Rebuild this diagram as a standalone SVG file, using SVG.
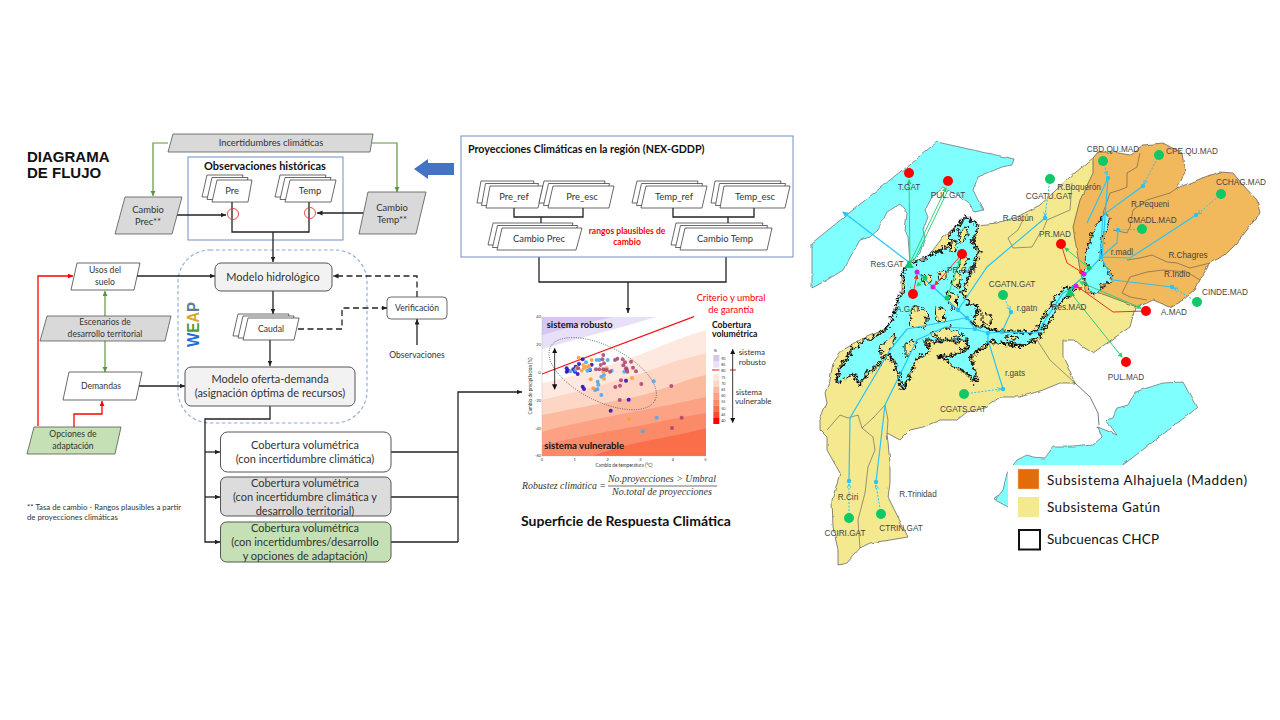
<svg xmlns="http://www.w3.org/2000/svg" width="1280" height="720" viewBox="0 0 1280 720">
<style>
text{font-family:Lato,"Liberation Sans",sans-serif;fill:#333;text-anchor:middle}
.s9{font-size:8.6px}.s10{font-size:9.4px}.s11{font-size:11px}
.b{font-weight:700;fill:#111}
.w{fill:#fff;stroke:#444;stroke-width:.8}
.g{fill:#d9d9d9;stroke:#555;stroke-width:.8}
.k{fill:none;stroke:#222;stroke-width:1.3}
.kd{fill:none;stroke:#222;stroke-width:1.3;stroke-dasharray:6 3.5}
.gr{fill:none;stroke:#5f9440;stroke-width:1.2}
.rd{fill:none;stroke:#f00;stroke-width:1.3}
.ml{font-family:"Liberation Sans",sans-serif;font-size:8.2px;fill:#444}
.c{fill:none;stroke:#29c4f4;stroke-width:1.2}
.cd{fill:none;stroke:#29c4f4;stroke-width:1;stroke-dasharray:2 1.5}
.mg{fill:none;stroke:#2fcf78;stroke-width:1}
.mr{fill:none;stroke:#f03020;stroke-width:1}
.sub{fill:none;stroke:#555;stroke-width:.6}
.nr{fill:#f00}.ng{fill:#10c865}.nm{fill:#d020e8}.nc{fill:#29c4f4}
.isl{fill:#f5e98f;stroke:#111;stroke-width:1}
.leg{font-family:Lato,"Liberation Sans",sans-serif;font-size:13.5px;fill:#111;text-anchor:start}
</style>
<defs>
<marker id="ak" markerUnits="userSpaceOnUse" markerWidth="7" markerHeight="7" refX="5.500" refY="2.500" orient="auto"><path d="M0,0L5.500,2.500L0,5Z" fill="#222"/></marker>
<marker id="ag" markerUnits="userSpaceOnUse" markerWidth="7" markerHeight="7" refX="5" refY="2.500" orient="auto"><path d="M0,0L5,2.500L0,5Z" fill="#5f9440"/></marker>
<marker id="ar" markerUnits="userSpaceOnUse" markerWidth="7" markerHeight="7" refX="5" refY="2.500" orient="auto"><path d="M0,0L5,2.500L0,5Z" fill="#f00"/></marker>
<marker id="ac" markerUnits="userSpaceOnUse" markerWidth="7" markerHeight="7" refX="5" refY="3" orient="auto"><path d="M0,0L6,3L0,6Z" fill="#29c4f4"/></marker>
<marker id="ac2" markerUnits="userSpaceOnUse" markerWidth="6" markerHeight="6" refX="4" refY="2" orient="auto"><path d="M0,0L4,2L0,4" fill="none" stroke="#29c4f4" stroke-width=".8"/></marker>
<marker id="amg" markerUnits="userSpaceOnUse" markerWidth="6" markerHeight="6" refX="4" refY="2.500" orient="auto-start-reverse"><path d="M0,0L5,2.500L0,5Z" fill="#2fcf78"/></marker>
<marker id="amr" markerUnits="userSpaceOnUse" markerWidth="6" markerHeight="6" refX="4" refY="2.500" orient="auto"><path d="M0,0L5,2.500L0,5Z" fill="#f03020"/></marker>
<marker id="ad" markerUnits="userSpaceOnUse" markerWidth="20" markerHeight="20" refX="15" refY="8" orient="auto-start-reverse"><path d="M0,0L16,8L0,16Z" fill="#111"/></marker>
<filter id="rough" x="-5%" y="-5%" width="110%" height="110%"><feTurbulence type="fractalNoise" baseFrequency="0.22" numOctaves="2" seed="4"/><feDisplacementMap in="SourceGraphic" scale="9" xChannelSelector="R" yChannelSelector="G"/></filter>
<filter id="rough2" x="-5%" y="-5%" width="110%" height="110%"><feTurbulence type="fractalNoise" baseFrequency="0.1" numOctaves="2" seed="9"/><feDisplacementMap in="SourceGraphic" scale="3" xChannelSelector="R" yChannelSelector="G"/></filter>
<clipPath id="plotclip"><rect x="96" y="50" width="492" height="418"/></clipPath>
<path id="lakeG" d="M977,225L972,243L978,253L968,277L962,293L968,305L978,307L972,325L987,329L1000,332L1017,332L1035,333L1043,320L1057,297L1067,288L1072,288L1073,292L1060,300L1048,322L1038,337L1023,345L1000,342L990,340L982,347L970,355L977,383L967,372L953,365L942,357L953,355L967,350L968,340L923,340L930,350L917,357L910,373L902,390L900,373L890,353L870,370L860,383L853,373L837,383L840,370L853,350L865,340L870,340L887,330L897,310L898,300L907,287L903,273L908,265L923,260L943,250L952,245L950,237L957,227L967,218Z"/>
<path id="lakeM" d="M1090,293L1098,293L1100,287L1113,280L1100,258L1103,235L1110,217L1105,213L1092,233L1090,243L1085,260L1087,267L1082,273L1087,287Z"/>
</defs>
<rect width="1280" height="720" fill="#fff"/>

<g id="title"><text x="27" y="162" style="font-family:'Liberation Sans',sans-serif;font-size:15px;font-weight:700;text-anchor:start;fill:#111">DIAGRAMA</text><text x="27" y="178" style="font-family:'Liberation Sans',sans-serif;font-size:15px;font-weight:700;text-anchor:start;fill:#111">DE FLUJO</text></g>
<g id="obs-box"><rect x="188" y="157" width="155" height="83" fill="none" stroke="#6f8fc8" stroke-width="1"/><text class="b" x="265" y="170" style="font-size:11px">Observaciones históricas</text></g>
<g id="weap"><rect x="178" y="250" width="189" height="173" rx="32" fill="none" stroke="#8ea9d8" stroke-width="1.1" stroke-dasharray="3.5 2.5"/>
<text transform="translate(199,347) rotate(-90)" textLength="45" lengthAdjust="spacingAndGlyphs" style="font-family:'Liberation Sans',sans-serif;font-size:16px;font-weight:700;text-anchor:start"><tspan fill="#1c6fd8">W</tspan><tspan fill="#4f9a3a">E</tspan><tspan fill="#d2a92e">A</tspan><tspan fill="#5f7f96">P</tspan></text></g>

<g id="connectors">
<path class="gr" d="M168,143H153V196" marker-end="url(#ag)"/>
<path class="gr" d="M372,143H397V192" marker-end="url(#ag)"/>
<path class="k" d="M177,215H226" marker-end="url(#ak)"/>
<path class="k" d="M363,213H317" marker-end="url(#ak)"/>
<path class="k" d="M232,202V232H309V202"/>
<path class="k" d="M273,232V262" marker-end="url(#ak)"/>
<path class="k" d="M135,276H215" marker-end="url(#ak)"/>
<path class="rd" d="M38,426V276H73" marker-end="url(#ar)"/>
<path class="gr" d="M105,316V291" marker-end="url(#ag)"/>
<path class="gr" d="M105,341V372" marker-end="url(#ag)"/>
<path class="rd" d="M74,427V414H102V401" marker-end="url(#ar)"/>
<path class="k" d="M138,386H185" marker-end="url(#ak)"/>
<path class="k" d="M273,291V314" marker-end="url(#ak)"/>
<path class="k" d="M270,340V366" marker-end="url(#ak)"/>
<path class="kd" d="M417,297V276H333" marker-end="url(#ak)"/>
<path class="kd" d="M298,329H342V308H387" marker-end="url(#ak)"/>
<path class="k" d="M417,345V319" marker-end="url(#ak)"/>
<path class="k" d="M270,406V419H205V542H220" marker-end="url(#ak)"/>
<path class="k" d="M205,452H220" marker-end="url(#ak)"/>
<path class="k" d="M205,497H220" marker-end="url(#ak)"/>
<path class="k" d="M391,452H458M391,497H458M391,542H458"/>
<path class="k" d="M458,542V392H522" marker-end="url(#ak)"/>
<path class="k" d="M514,208V217H583V208"/>
<path class="k" d="M541,217V228" marker-end="url(#ak)"/>
<path class="k" d="M673,208V217H754V208"/>
<path class="k" d="M728,217V228" marker-end="url(#ak)"/>
<path class="k" d="M539,257V282H726V257"/>
<path class="k" d="M628,282V313" marker-end="url(#ak)"/>
<circle cx="233" cy="214" r="5.5" fill="none" stroke="#f03030" stroke-width=".9"/>
<circle cx="310" cy="213" r="5.5" fill="none" stroke="#f03030" stroke-width=".9"/>
<path d="M414,169L428,159V163H454V175H428V179Z" fill="#4472c4"/>
</g>

<g id="incertidumbres"><polygon class="g" points="168,152 173,134 373,134 370,152"/><text class="s10" x="271" y="146">Incertidumbres climáticas</text></g>
<g id="cambio-prec"><polygon class="g" points="115,234 125,197 182,197 172,234"/><text class="s10" x="148" y="213">Cambio</text><text class="s10" x="148" y="225">Prec**</text></g>
<g id="cambio-temp"><polygon class="g" points="359,234 368,192 426,192 416,234"/><text class="s10" x="392" y="211">Cambio</text><text class="s10" x="392" y="223">Temp**</text></g>
<g id="pre"><polygon class="w" points="202,197 207,175 243,175 239,197"/><polygon class="w" points="207,199.500 212,177.500 248,177.500 243,199.500"/><polygon class="w" points="212,202 217,180 252,180 248,202"/><text class="s10" x="232" y="194">Pre</text></g>
<g id="temp"><polygon class="w" points="275,197 280,175 326,175 321,197"/><polygon class="w" points="280,199.500 285,177.500 331,177.500 326,199.500"/><polygon class="w" points="285,202 290,180 336,180 331,202"/><text class="s10" x="310" y="194">Temp</text></g>
<g id="usos"><polygon class="w" points="71,290 77,263 140,263 134,290"/><text class="s9" x="105" y="273">Usos del</text><text class="s9" x="105" y="285">suelo</text></g>
<g id="escenarios"><polygon class="g" points="40,341 47,316 171,316 165,341"/><text class="s9" x="105" y="325">Escenarios de</text><text class="s9" x="105" y="337">desarrollo territorial</text></g>
<g id="demandas"><polygon class="w" points="63,400 69,372 142,372 136,400"/><text class="s9" x="101" y="389">Demandas</text></g>
<g id="opciones"><polygon points="27,454 34,427 121,427 115,454" fill="#c5e0b4" stroke="#555" stroke-width=".8"/><text class="s9" x="73" y="437">Opciones de</text><text class="s9" x="73" y="449">adaptación</text></g>
<g id="hidrologico"><rect x="215" y="263" width="117" height="28" rx="6" fill="#f2f2f2" stroke="#555"/><text class="s11" x="273" y="281">Modelo hidrológico</text></g>
<g id="caudal"><polygon class="w" points="233,336 238,314 289,314 284,336"/><polygon class="w" points="238,338 243,316 294,316 289,338"/><polygon class="w" points="243,340 248,318 299,318 294,340"/><text class="s9" x="271" y="332">Caudal</text></g>
<g id="verificacion"><rect x="387" y="297" width="60" height="22" rx="4" fill="#fff" stroke="#444" stroke-width=".8"/><text class="s9" x="417" y="311">Verificación</text></g>
<g id="observaciones"><text class="s9" x="417" y="358">Observaciones</text></g>
<g id="oferta"><rect x="185" y="367" width="170" height="39" rx="6" fill="#f2f2f2" stroke="#555"/><text class="s11" x="270" y="383">Modelo oferta-demanda</text><text class="s11" x="270" y="397">(asignación óptima de recursos)</text></g>
<g id="cob1"><rect x="220.500" y="432" width="170.500" height="40" rx="7" fill="#fff" stroke="#555"/><text class="s11" x="305" y="449">Cobertura volumétrica</text><text class="s11" x="305" y="463">(con incertidumbre climática)</text></g>
<g id="cob2"><rect x="220.500" y="477" width="170.500" height="39" rx="6" fill="#dcdcdc" stroke="#555"/><text class="s11" x="305" y="487">Cobertura volumétrica</text><text class="s11" x="305" y="501">(con incertidumbre climática y</text><text class="s11" x="305" y="515">desarrollo territorial)</text></g>
<g id="cob3"><rect x="220.500" y="522" width="170.500" height="40" rx="6" fill="#c5e0b4" stroke="#555"/><text class="s11" x="305" y="532">Cobertura volumétrica</text><text class="s11" x="305" y="546">(con incertidumbres/desarrollo</text><text class="s11" x="305" y="560">y opciones de adaptación)</text></g>
<g id="nota"><text x="27" y="510" style="font-size:7.8px;text-anchor:start">** Tasa de cambio - Rangos plausibles a partir</text><text x="27" y="520" style="font-size:7.8px;text-anchor:start">de proyecciones climáticas</text></g>

<g id="proy-box"><rect x="461" y="136" width="332" height="121" fill="none" stroke="#6f8fc8"/><text class="b" x="468" y="153" style="font-size:10.7px;text-anchor:start">Proyecciones Climáticas en la región (NEX-GDDP)</text></g>
<g id="pre-ref"><polygon class="w" points="477,203 481,181 534,181 529,203"/><polygon class="w" points="481.500,205.500 485.500,183.500 538.500,183.500 533.500,205.500"/><polygon class="w" points="486,208 490,186 543,186 538,208"/><text class="s10" x="514" y="200">Pre_ref</text></g>
<g id="pre-esc"><polygon class="w" points="539,203 544,181 605,181 600,203"/><polygon class="w" points="543.500,205.500 548.500,183.500 609.500,183.500 604.500,205.500"/><polygon class="w" points="548,208 553,186 614,186 609,208"/><text class="s10" x="582" y="200">Pre_esc</text></g>
<g id="temp-ref"><polygon class="w" points="632,203 637,181 698,181 693,203"/><polygon class="w" points="636.500,205.500 641.500,183.500 702.500,183.500 697.500,205.500"/><polygon class="w" points="641,208 646,186 707,186 702,208"/><text class="s10" x="674" y="200">Temp_ref</text></g>
<g id="temp-esc"><polygon class="w" points="711,203 715,181 781,181 776,203"/><polygon class="w" points="715.500,205.500 719.500,183.500 785.500,183.500 780.500,205.500"/><polygon class="w" points="720,208 724,186 790,186 785,208"/><text class="s10" x="755" y="200">Temp_esc</text></g>
<g id="cambio-prec-2"><polygon class="w" points="488,245 493,223 573,223 567,245"/><polygon class="w" points="492.500,247.500 497.500,225.500 577.500,225.500 571.500,247.500"/><polygon class="w" points="497,250 502,228 582,228 576,250"/><text class="s10" x="539" y="242">Cambio Prec</text></g>
<g id="cambio-temp-2"><polygon class="w" points="671,245 676,223 763,223 758,245"/><polygon class="w" points="675.500,247.500 680.500,225.500 767.500,225.500 762.500,247.500"/><polygon class="w" points="680,250 685,228 772,228 767,250"/><text class="s10" x="725" y="242">Cambio Temp</text></g>
<g id="rangos"><text x="627" y="234" style="font-size:8.6px;font-weight:700;fill:#f00">rangos plausibles de</text><text x="627" y="245" style="font-size:8.6px;font-weight:700;fill:#f00">cambio</text></g>
<g id="criterio"><text x="731" y="301" style="font-size:9.4px;fill:#f00">Criterio y umbral</text><text x="731" y="313" style="font-size:9.4px;fill:#f00">de garantía</text></g>

<g id="plot" transform="translate(510,300) scale(.33333)">
<g clip-path="url(#plotclip)">
<rect x="96" y="50" width="492" height="418" fill="#fff"/>
<path d="M96,50H440C330,85 200,115 96,148Z" fill="#e8dff8"/>
<path d="M96,50H310C200,75 150,90 96,105Z" fill="#d6c7f2"/>
<path d="M96,250C200,228 320,190 400,160C480,125 540,105 588,90V468H96Z" fill="#fee9e0"/>
<path d="M96,300C200,275 320,245 450,200C500,180 550,170 588,160V468H96Z" fill="#fdd6c6"/>
<path d="M96,345C250,315 330,300 400,285C480,260 540,235 588,225V468H96Z" fill="#fcba9f"/>
<path d="M96,395C250,355 350,340 450,320C500,310 550,300 588,290V468H96Z" fill="#fca184"/>
<path d="M96,435C250,400 350,385 450,365C500,355 550,345 588,340V468H96Z" fill="#fb8a68"/>
<path d="M250,468C320,440 400,425 450,415C500,405 550,395 588,385V468Z" fill="#fa6f4a"/>
</g>
<path d="M96,50V468H588" fill="none" stroke="#aaa" stroke-width="1"/>
<path d="M96,222L552,50" stroke="#f0141e" stroke-width="3.500" fill="none"/>
<ellipse cx="278" cy="221" rx="176" ry="82" transform="rotate(27 278 221)" fill="none" stroke="#555" stroke-width="2.500" stroke-dasharray="3 4"/>
<path d="M134,145V268" stroke="#111" stroke-width="2.500" marker-start="url(#ad)" marker-end="url(#ad)" fill="none"/>
<g fill="#2a12b8" fill-opacity=".9">
<circle cx="170" cy="205" r="6"/><circle cx="175" cy="212" r="6"/><circle cx="190" cy="208" r="6"/><circle cx="195" cy="215" r="6"/><circle cx="203" cy="222" r="6"/><circle cx="197" cy="200" r="6"/><circle cx="207" cy="192" r="6"/><circle cx="218" cy="178" r="6"/><circle cx="245" cy="194" r="6"/><circle cx="218" cy="260" r="6"/><circle cx="222" cy="267" r="6"/><circle cx="348" cy="242" r="6"/><circle cx="356" cy="299" r="6"/><circle cx="302" cy="332" r="6"/><circle cx="240" cy="210" r="6"/><circle cx="170" cy="215" r="6"/></g>
<g fill="#4da8ee" fill-opacity=".9">
<circle cx="228" cy="187" r="6"/><circle cx="260" cy="180" r="6"/><circle cx="268" cy="180" r="6"/><circle cx="293" cy="180" r="6"/><circle cx="263" cy="245" r="6"/><circle cx="265" cy="254" r="6"/><circle cx="262" cy="268" r="6"/><circle cx="255" cy="270" r="6"/><circle cx="274" cy="285" r="6"/><circle cx="274" cy="230" r="6"/><circle cx="282" cy="225" r="6"/><circle cx="305" cy="212" r="6"/><circle cx="343" cy="215" r="6"/><circle cx="431" cy="244" r="6"/><circle cx="440" cy="353" r="6"/><circle cx="398" cy="394" r="6"/><circle cx="232" cy="212" r="6"/><circle cx="240" cy="208" r="6"/><circle cx="196" cy="210" r="6"/><circle cx="182" cy="214" r="6"/></g>
<g fill="#f9a23a" fill-opacity=".9">
<circle cx="206" cy="173" r="6"/><circle cx="245" cy="180" r="6"/><circle cx="200" cy="205" r="6"/><circle cx="215" cy="212" r="6"/><circle cx="222" cy="205" r="6"/><circle cx="230" cy="200" r="6"/><circle cx="237" cy="198" r="6"/><circle cx="220" cy="195" r="6"/><circle cx="280" cy="215" r="6"/><circle cx="285" cy="210" r="6"/><circle cx="282" cy="236" r="6"/><circle cx="242" cy="238" r="6"/><circle cx="250" cy="265" r="6"/><circle cx="366" cy="234" r="6"/><circle cx="357" cy="358" r="6"/><circle cx="290" cy="205" r="6"/></g>
<g fill="#aa3f70" fill-opacity=".85">
<circle cx="280" cy="165" r="6"/><circle cx="277" cy="178" r="6"/><circle cx="282" cy="190" r="6"/><circle cx="272" cy="195" r="6"/><circle cx="315" cy="180" r="6"/><circle cx="322" cy="176" r="6"/><circle cx="338" cy="178" r="6"/><circle cx="345" cy="187" r="6"/><circle cx="340" cy="196" r="6"/><circle cx="363" cy="185" r="6"/><circle cx="369" cy="203" r="6"/><circle cx="378" cy="214" r="6"/><circle cx="350" cy="208" r="6"/><circle cx="352" cy="215" r="6"/><circle cx="348" cy="205" r="6"/><circle cx="258" cy="208" r="6"/><circle cx="268" cy="208" r="6"/><circle cx="280" cy="208" r="6"/><circle cx="290" cy="210" r="6"/><circle cx="300" cy="215" r="6"/><circle cx="333" cy="241" r="6"/><circle cx="330" cy="257" r="6"/><circle cx="316" cy="261" r="6"/><circle cx="394" cy="252" r="6"/><circle cx="484" cy="258" r="6"/><circle cx="329" cy="300" r="6"/><circle cx="515" cy="353" r="6"/><circle cx="486" cy="384" r="6"/><circle cx="205" cy="205" r="6"/></g>
<g style="font-family:'Liberation Sans',sans-serif">
<text x="86" y="54" style="font-size:12px">40</text><text x="86" y="138" style="font-size:12px">20</text><text x="88" y="222" style="font-size:12px">0</text><text x="84" y="305" style="font-size:12px">-20</text><text x="84" y="389" style="font-size:12px">-40</text><text x="84" y="472" style="font-size:12px">-60</text>
<text x="96" y="482" style="font-size:12px">0</text><text x="194" y="482" style="font-size:12px">1</text><text x="293" y="482" style="font-size:12px">2</text><text x="391" y="482" style="font-size:12px">3</text><text x="489" y="482" style="font-size:12px">4</text><text x="586" y="482" style="font-size:12px">5</text>
<text x="342" y="500" style="font-size:14px">Cambio de temperatura (°C)</text>
<text transform="translate(66,258) rotate(-90)" style="font-size:14px">Cambio de precipitacion (%)</text></g>
<text x="110" y="85" style="font-size:28px;font-weight:700;text-anchor:start;fill:#111">sistema robusto</text>
<text x="103" y="446" style="font-size:29px;font-weight:700;text-anchor:start;fill:#111">sistema vulnerable</text>
<text x="606" y="84" style="font-size:26px;font-weight:700;text-anchor:start;fill:#111">Cobertura</text>
<text x="606" y="112" style="font-size:26px;font-weight:700;text-anchor:start;fill:#111">volumétrica</text>
<text x="616" y="157" style="font-size:12px">%</text>
<g><rect x="610" y="165" width="18" height="19" fill="#d6c7f2"/><rect x="610" y="184" width="18" height="19" fill="#e8dff8"/><rect x="610" y="222" width="18" height="19" fill="#fee9e0"/><rect x="610" y="241" width="18" height="19" fill="#fdd6c6"/><rect x="610" y="260" width="18" height="19" fill="#fcba9f"/><rect x="610" y="279" width="18" height="19" fill="#fca184"/><rect x="610" y="298" width="18" height="19" fill="#fb8a68"/><rect x="610" y="317" width="18" height="19" fill="#fa6f4a"/><rect x="610" y="336" width="18" height="19" fill="#fb4a2a"/><rect x="610" y="354" width="18" height="18" fill="#ff0000"/></g>
<g style="font-family:'Liberation Sans',sans-serif"><text x="640" y="179" style="font-size:11px">90</text><text x="640" y="198" style="font-size:11px">85</text><text x="640" y="217" style="font-size:11px">80</text><text x="640" y="236" style="font-size:11px">75</text><text x="640" y="254" style="font-size:11px">70</text><text x="640" y="273" style="font-size:11px">65</text><text x="640" y="291" style="font-size:11px">60</text><text x="640" y="310" style="font-size:11px">55</text><text x="640" y="329" style="font-size:11px">50</text><text x="640" y="348" style="font-size:11px">45</text><text x="640" y="367" style="font-size:11px">40</text></g>
<path d="M606,210H628M660,210H678" stroke="#f0141e" stroke-width="3"/>
<path d="M668,148V368" stroke="#111" stroke-width="2.500" marker-start="url(#ad)" marker-end="url(#ad)" fill="none"/>
<text x="686" y="166" style="font-size:24px;text-anchor:start">sistema</text><text x="686" y="194" style="font-size:24px;text-anchor:start">robusto</text>
<text x="677" y="284" style="font-size:24px;text-anchor:start">sistema</text><text x="675" y="313" style="font-size:24px;text-anchor:start">vulnerable</text>
</g>
<g id="formula"><text x="522" y="489" textLength="84" lengthAdjust="spacingAndGlyphs" style="font-family:'Liberation Serif',serif;font-style:italic;font-size:9.5px;text-anchor:start">Robustez climática =</text>
<text x="662" y="482" textLength="108" lengthAdjust="spacingAndGlyphs" style="font-family:'Liberation Serif',serif;font-style:italic;font-size:9.5px">No.proyecciones &gt; Umbral</text>
<path d="M608,486H717" stroke="#333" stroke-width=".7"/>
<text x="662" y="495" textLength="100" lengthAdjust="spacingAndGlyphs" style="font-family:'Liberation Serif',serif;font-style:italic;font-size:9.5px">No.total de proyecciones</text></g>
<g id="superficie"><text x="521" y="526" style="font-size:14px;font-weight:700;text-anchor:start;fill:#111">Superficie de Respuesta Climática</text></g>

<g id="map">
<g filter="url(#rough2)" fill="#80ffff" stroke="#666" stroke-width=".7">
<path d="M812,243L937,142L1014,159L1012,165L1002,167L990,172L978,177L973,190L983,210L975,212L967,202L957,195L943,188L932,197L925,210L928,217L923,230L925,237L920,253L910,263L908,237L905,230L907,213L900,204L887,212L878,230L870,237L860,240L843,270L827,280L812,288Z"/>
<path d="M1197,408L1183,382L1163,383L1147,388L1135,392L1128,405L1117,408L1113,418L1106,420L1117,435L1098,427L1102,437L1093,445L1073,447L1053,447L1045,458L1033,457L1027,455L1017,460L1007,473L1003,490L995,500L1008,507L1123,465Z"/>
</g>
<path d="M1075,383L1090,397L1098,413L1099,425" fill="none" stroke="#555" stroke-width=".8"/>
<g filter="url(#rough2)" stroke="#555" stroke-width=".7">
<path fill="#f5e98f" d="M1093,158L1150,250L1130,327L1107,343L1093,353L1083,347L1075,340L1063,340L1063,357L1075,383L1060,383L1043,390L1020,397L1000,397L985,408L967,412L957,420L940,420L923,427L910,430L900,440L887,433L890,463L890,483L888,497L898,517L908,537L890,540L870,543L860,548L847,563L838,565L838,550L833,527L832,500L840,473L827,450L827,437L820,430L820,420L827,403L825,393L830,380L833,363L843,350L860,340L890,327L902,307L902,277L910,263L923,263L943,237L960,223L977,225L997,223L1017,217L1040,205L1070,177Z"/>
<path fill="#f2b95c" d="M1093,158L1098,152L1113,152L1130,155L1143,145L1163,143L1182,153L1185,173L1177,188L1190,183L1210,175L1220,172L1233,173L1243,185L1257,200L1260,213L1247,230L1237,243L1225,255L1210,263L1200,280L1195,290L1183,300L1170,307L1153,300L1147,303L1137,307L1100,293L1087,293L1080,270L1073,227L1080,200L1093,173Z"/>
</g>
<g id="subbasins">
<path class="sub" d="M1140,153L1137,167L1127,173L1127,187L1120,190L1110,193L1103,213L1110,220"/>
<path class="sub" d="M1177,188L1170,193L1147,200L1133,210L1130,227L1127,233L1113,230"/>
<path class="sub" d="M1127,260L1140,258L1152,255L1167,262L1177,263L1190,268L1210,263"/>
<path class="sub" d="M1130,277L1147,272L1163,270L1187,272L1200,280"/>
<path class="sub" d="M1122,293L1130,277M1122,293L1130,297L1147,300"/>
<path class="sub" d="M1072,183L1070,210L1047,220L1043,230M1023,220L1018,230L1008,238L1013,248L1032,247L1040,233"/>
<path class="sub" d="M840,415L848,418L858,415L862,428L873,437L875,450L868,467L865,493L858,520L860,548M840,415L827,430M885,405L873,418L862,428M885,405L888,420L887,433"/>
<path class="sub" d="M1037,340L1050,360L1075,383"/>
</g>
<g filter="url(#rough)">
<use href="#lakeG" fill="none" stroke="#111" stroke-width="5" stroke-dasharray="1.500 1.200"/>
<use href="#lakeG" fill="#80ffff" stroke="#111" stroke-width="1"/>
<use href="#lakeM" fill="none" stroke="#111" stroke-width="2.500" stroke-dasharray="1.500 2"/>
<use href="#lakeM" fill="#80ffff" stroke="#111" stroke-width=".7"/>
<path class="isl" d="M950,241L957,240L957,251L950,252Z"/>
<path class="isl" d="M958,231L968,226L966,240L960,242Z"/>
<path class="isl" d="M962,256L968,258L964,272L958,270Z"/>
<path class="isl" d="M956,272L961,276L958,288L952,284Z"/>
<path class="isl" d="M921,276L930,274L931,283L923,284Z"/>
<path class="isl" d="M938,272L946,270L946,279L939,280Z"/>
<path class="isl" d="M948,291L956,293L957,311L950,306Z"/>
<path class="isl" d="M912,305L928,312L924,330L910,326Z"/>
<path class="isl" d="M935,306L944,310L945,322L936,320Z"/>
<path class="isl" d="M930,333L950,327L965,336L940,339Z"/>
<path class="isl" d="M982,312L992,316L990,326L982,322Z"/>
<path class="isl" d="M1005,336L1018,337L1012,341Z"/>
<path class="isl" d="M880,345L895,335L892,347L882,360Z"/>
<path class="isl" d="M905,345L916,340L912,352L905,358Z"/>
</g>

<g id="map-connectors">
<path class="c" d="M910,263L843,212" marker-end="url(#ac)"/>
<path class="c" d="M917,272L958,310L967,318L975,329L988,333L1002,332L1037,333L1063,293L1075,287"/>
<path class="c" d="M958,310L987,267L1045,218"/>
<path class="c" d="M1011,312L1002,332"/>
<path class="c" d="M965,318L907,329L890,350L850,418L849,481"/>
<path class="c" d="M975,329L945,327L917,340L885,405L876,482"/>
<path class="c" d="M1003,389L988,340V333"/>
<path class="c" d="M1108,178L1087,223M1108,178L1102,257M1143,186L1103,215L1100,257M1118,230L1117,243L1101,257M1196,215L1130,258L1101,257M1172,287L1113,280L1101,257L1083,277L1072,287"/>
<path class="cd" d="M1003,295L1010,310" marker-end="url(#ac2)"/>
<path class="cd" d="M1050,179L1045,216" marker-end="url(#ac2)"/>
<path class="cd" d="M1103,161L1107,175" marker-end="url(#ac2)"/>
<path class="cd" d="M1159,155L1144,184" marker-end="url(#ac2)"/>
<path class="cd" d="M1221,194L1198,214" marker-end="url(#ac2)"/>
<path class="cd" d="M1142,229L1120,230"/>
<path class="cd" d="M1197,302L1174,288" marker-end="url(#ac2)"/>
<path class="cd" d="M964,394L1001,389" marker-end="url(#ac2)"/>
<path class="cd" d="M849,518V484" marker-end="url(#ac2)"/>
<path class="cd" d="M881,514L876,485" marker-end="url(#ac2)"/>
<path class="mg" d="M910,263L909,180" marker-end="url(#amg)"/>
<path class="mg" d="M910,263L946,188" marker-end="url(#amg)"/>
<path class="mg" d="M913,263L948,190"/>
<path class="mg" d="M947,298L960,260" marker-end="url(#amg)"/>
<path class="mg" d="M925,278L917,286" marker-end="url(#amg)"/>
<path class="mg" d="M1089,268L1065,248" marker-end="url(#amg)"/>
<path class="mg" d="M1080,282L1141,308" marker-start="url(#amg)" marker-end="url(#amg)"/>
<path class="mg" d="M1070,292L1122,357" marker-end="url(#amg)"/>
<path class="mr" d="M962,254L935,285" marker-end="url(#amr)"/>
<path class="mr" d="M913,294L917,275" marker-end="url(#amr)"/>
<path class="mr" d="M1061,244L1067,263L1083,273" marker-end="url(#amr)"/>
<path class="mr" d="M1146,311L1113,312L1078,287" marker-end="url(#amr)"/>
</g>
<g id="map-nodes">
<circle class="nr" cx="909" cy="173" r="5"/><circle class="nr" cx="948" cy="181" r="5"/><circle class="nr" cx="962" cy="254" r="5"/><circle class="nr" cx="913" cy="294" r="5"/><circle class="nr" cx="1061" cy="244" r="5"/><circle class="nr" cx="1146" cy="311" r="5"/><circle class="nr" cx="1126" cy="362" r="5"/>
<circle class="ng" cx="1003" cy="295" r="5"/><circle class="ng" cx="1050" cy="179" r="5"/><circle class="ng" cx="1103" cy="161" r="5"/><circle class="ng" cx="1159" cy="155" r="5"/><circle class="ng" cx="1221" cy="194" r="5"/><circle class="ng" cx="1142" cy="229" r="5"/><circle class="ng" cx="1197" cy="302" r="5"/><circle class="ng" cx="964" cy="394" r="5"/><circle class="ng" cx="849" cy="518" r="5"/><circle class="ng" cx="881" cy="514" r="5"/>
<circle class="ng" cx="925" cy="278" r="2.500"/><circle class="ng" cx="947" cy="298" r="2.500"/><circle class="ng" cx="1089" cy="268" r="2.500"/>
<circle class="nm" cx="917" cy="272" r="2.500"/><circle class="nm" cx="933" cy="287" r="2.500"/><circle class="nm" cx="1084" cy="274" r="2.500"/><circle class="nm" cx="1076" cy="286" r="2.500"/>
<path class="ng" d="M909,260L914,268H904Z"/><path class="ng" d="M1070,288L1075,296H1065Z"/>
<circle class="nc" cx="958" cy="310" r="2.200"/><circle class="nc" cx="967" cy="318" r="2.200"/><circle class="nc" cx="975" cy="329" r="2.200"/><circle class="nc" cx="988" cy="333" r="2.200"/><circle class="nc" cx="1002" cy="332" r="2.200"/><circle class="nc" cx="1011" cy="312" r="2.200"/><circle class="nc" cx="1045" cy="218" r="2.200"/><circle class="nc" cx="1108" cy="178" r="2.200"/><circle class="nc" cx="1143" cy="186" r="2.200"/><circle class="nc" cx="1118" cy="230" r="2.200"/><circle class="nc" cx="1196" cy="215" r="2.200"/><circle class="nc" cx="1172" cy="287" r="2.200"/><circle class="nc" cx="1101" cy="257" r="2.200"/><circle class="nc" cx="1003" cy="389" r="2.200"/><circle class="nc" cx="849" cy="481" r="2.200"/><circle class="nc" cx="876" cy="482" r="2.200"/>
</g>
<g id="map-labels">
<text class="ml" x="909" y="190">T.GAT</text><text class="ml" x="948" y="198">PUL.GAT</text><text class="ml" x="887" y="267">Res.GAT</text><text class="ml" x="962" y="273">PR.GAT</text><text class="ml" x="908" y="312">A.GAT</text>
<text class="ml" x="1012" y="287">CGATN.GAT</text><text class="ml" x="1027" y="311">r.gatn</text><text class="ml" x="1049" y="199">CGATU.GAT</text><text class="ml" x="1018" y="221">R.Gatún</text><text class="ml" x="1079" y="190">R.Boquerón</text>
<text class="ml" x="1113" y="152">CBD.QU.MAD</text><text class="ml" x="1192" y="154">CPE.QU.MAD</text><text class="ml" x="1241" y="185">CCHAG.MAD</text><text class="ml" x="1150" y="207">R.Pequeni</text><text class="ml" x="1152" y="223">CMADL.MAD</text><text class="ml" x="1055" y="237">PR.MAD</text><text class="ml" x="1122" y="255">r.madl</text><text class="ml" x="1188" y="258">R.Chagres</text><text class="ml" x="1177" y="277">R.Indio</text><text class="ml" x="1225" y="295">CINDE.MAD</text><text class="ml" x="1174" y="315">A.MAD</text><text class="ml" x="1069" y="310">Res.MAD</text><text class="ml" x="1126" y="380">PUL.MAD</text>
<text class="ml" x="1015" y="376">r.gats</text><text class="ml" x="963" y="412">CGATS.GAT</text><text class="ml" x="848" y="500">R.Ciri</text><text class="ml" x="845" y="536">CCIRI.GAT</text><text class="ml" x="901" y="531">CTRIN.GAT</text><text class="ml" x="918" y="497">R.Trinidad</text>
</g>
</g>
<g id="legend">
<rect x="1008" y="465" width="252" height="105" fill="#fff"/>
<rect x="1018" y="469" width="21" height="20" fill="#e36c0a" stroke="#f3c9a0" stroke-width=".5"/><rect x="1018" y="497" width="21" height="20" fill="#f5e98f"/><rect x="1019" y="530" width="21" height="19.500" fill="#fff" stroke="#111" stroke-width="2"/>
<text class="leg" x="1047" y="485" textLength="200" lengthAdjust="spacing">Subsistema Alhajuela (Madden)</text><text class="leg" x="1047" y="512" textLength="113" lengthAdjust="spacing">Subsistema Gatún</text><text class="leg" x="1047" y="544" textLength="112" lengthAdjust="spacing">Subcuencas CHCP</text>
</g>
</svg>
